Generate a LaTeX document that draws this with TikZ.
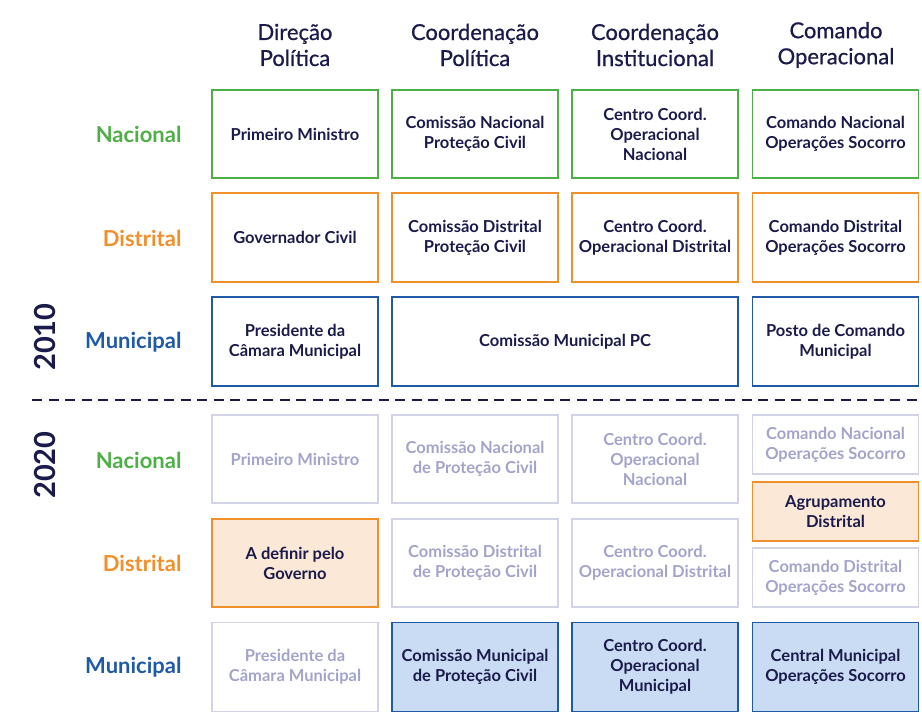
\documentclass[tikz,border=0pt]{standalone}
\usepackage{fontspec}
\setmainfont{Lato}
\newfontfamily\headfont[FakeBold=0.7]{Lato}
\definecolor{navy}{HTML}{1B1B4B}
\definecolor{grn}{HTML}{4DAF45}
\definecolor{org}{HTML}{F0902A}
\definecolor{blu}{HTML}{1F5AA6}
\definecolor{fadetxt}{HTML}{A3A3CC}
\definecolor{fadebdr}{HTML}{D3D3E8}
\definecolor{orgfill}{HTML}{FCE8D6}
\definecolor{blufill}{HTML}{C9DCF3}
\tikzset{
  cell/.style={draw, line width=1.2pt, minimum width=166pt, minimum height=88pt, align=center, text=navy, inner sep=2pt,
    font=\bfseries\fontsize{16.5}{20}\selectfont},
  gcell/.style={cell, draw=grn},
  ocell/.style={cell, draw=org},
  bcell/.style={cell, draw=blu},
  fcell/.style={cell, draw=fadebdr, text=fadetxt},
  ofill/.style={cell, draw=org, fill=orgfill},
  bfill/.style={cell, draw=blu, fill=blufill},
  colhead/.style={align=center, text=navy, font=\headfont\fontsize{22}{26}\selectfont},
  rowlab/.style={anchor=east, font=\bfseries\fontsize{22}{26}\selectfont},
  yearlab/.style={rotate=90, text=navy, font=\bfseries\fontsize{29}{32}\selectfont}
}
\begin{document}
\begin{tikzpicture}[x=1pt,y=-1pt]
\useasboundingbox (0,0) rectangle (922,712);
% column headers
\node[colhead] (h1) at (295,45) {Direção\\Política};
\node[colhead] (h2) at (475,45) {Coordenação\\Política};
\node[colhead] (h3) at (655,45) {Coordenação\\Institucional};
\node[colhead] (h4) at (836,45) {Comando\\Operacional};
% row labels
\node[rowlab, text=grn] (l1) at (185,134) {Nacional};
\node[rowlab, text=org] (l2) at (185,238) {Distrital};
\node[rowlab, text=blu] (l3) at (185,342) {Municipal};
\node[rowlab, text=grn] (l4) at (185,460) {Nacional};
\node[rowlab, text=org] (l5) at (185,563) {Distrital};
\node[rowlab, text=blu] (l6) at (185,667) {Municipal};
% years
\node[yearlab] (y1) at (45,337) {2010};
\node[yearlab] (y2) at (45,465) {2020};
% 2010
\node[gcell] (a11) at (295,134) {Primeiro Ministro};
\node[gcell] (a12) at (475,134) {Comissão Nacional\\Proteção Civil};
\node[gcell] (a13) at (655,134) {Centro Coord.\\Operacional\\Nacional};
\node[gcell] (a14) at (835.5,134) {Comando Nacional\\Operações Socorro};
\node[ocell, minimum height=89pt] (a21) at (295,237.5) {Governador Civil};
\node[ocell, minimum height=89pt] (a22) at (475,237.5) {Comissão Distrital\\Proteção Civil};
\node[ocell, minimum height=89pt] (a23) at (655,237.5) {Centro Coord.\\Operacional Distrital};
\node[ocell, minimum height=89pt] (a24) at (835.5,237.5) {Comando Distrital\\Operações Socorro};
\node[bcell, minimum height=89pt] (a31) at (295,341.5) {Presidente da\\Câmara Municipal};
\node[bcell, minimum height=89pt, minimum width=346pt] (a32) at (565,341.5) {Comissão Municipal PC};
\node[bcell, minimum height=89pt] (a34) at (835.5,341.5) {Posto de Comando\\Municipal};
% separator
\coordinate (s1) at (32,399.5);
\coordinate (s2) at (918,399.5);
\draw[navy, line width=2pt, dash pattern=on 10pt off 6.5pt] (s1) -- (s2);
% 2020
\node[fcell] (b11) at (295,459) {Primeiro Ministro};
\node[fcell] (b12) at (475,459) {Comissão Nacional\\de Proteção Civil};
\node[fcell] (b13) at (655,459) {Centro Coord.\\Operacional\\Nacional};
\node[fcell, minimum height=59pt] (b14) at (835.5,444.5) {Comando Nacional\\Operações Socorro};
\node[ofill] (b21) at (295,563) {A definir pelo\\Governo};
\node[fcell] (b22) at (475,563) {Comissão Distrital\\de Proteção Civil};
\node[fcell] (b23) at (655,563) {Centro Coord.\\Operacional Distrital};
\node[ofill, minimum height=59pt] (b24) at (835.5,511.5) {Agrupamento\\Distrital};
\node[fcell, minimum height=59pt] (b25) at (835.5,577.5) {Comando Distrital\\Operações Socorro};
\node[fcell, minimum height=89pt] (b31) at (295,667) {Presidente da\\Câmara Municipal};
\node[bfill, minimum height=89pt] (b32) at (475,667) {Comissão Municipal\\de Proteção Civil};
\node[bfill, minimum height=89pt] (b33) at (655,667) {Centro Coord.\\Operacional\\Municipal};
\node[bfill, minimum height=89pt] (b34) at (835.5,667) {Central Municipal\\Operações Socorro};
\end{tikzpicture}
\end{document}
